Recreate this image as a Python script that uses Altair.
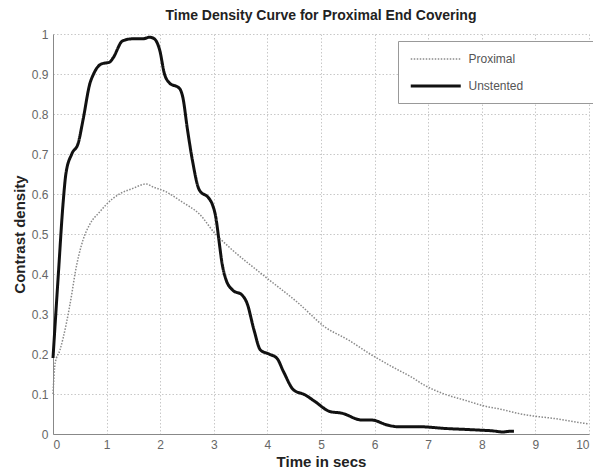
import altair as alt
import pandas as pd

unstented_t = [0, 0.1, 0.19, 0.24, 0.35, 0.47, 0.56, 0.69, 0.75, 0.90, 1.06, 1.12, 1.30, 1.49, 1.68, 1.80, 1.89,
               1.99, 2.08, 2.17, 2.36, 2.42, 2.51, 2.60, 2.73, 2.91, 2.97, 3.04, 3.10, 3.15, 3.22, 3.35, 3.53, 3.62,
               3.75, 3.87, 4.03, 4.18, 4.30, 4.49, 4.70, 4.89, 5.17, 5.39, 5.76, 5.94, 6.25, 6.44, 6.87, 7.30, 7.92,
               8.23, 8.39, 8.54, 8.6]
unstented_v = [0.19, 0.40, 0.58, 0.65, 0.70, 0.727, 0.785, 0.877, 0.898, 0.925, 0.93, 0.94, 0.983, 0.988, 0.988,
               0.992, 0.988, 0.96, 0.90, 0.878, 0.864, 0.843, 0.76, 0.685, 0.61, 0.589, 0.575, 0.54, 0.48, 0.43,
               0.389, 0.36, 0.347, 0.327, 0.26, 0.21, 0.20, 0.189, 0.156, 0.11, 0.098, 0.081, 0.056, 0.052, 0.035,
               0.035, 0.022, 0.018, 0.018, 0.014, 0.01, 0.0075, 0.005, 0.007, 0.007]

proximal_t = [0, 0.04, 0.13, 0.25, 0.35, 0.41, 0.56, 0.69, 0.87, 0.99, 1.11, 1.24, 1.49, 1.74, 1.86, 2.10, 2.41,
              2.73, 3.03, 3.28, 3.96, 4.58, 5.07, 5.51, 5.94, 6.44, 6.68, 6.93, 7.30, 7.67, 8.11, 8.35, 8.66, 8.91,
              9.34, 9.90, 10]
proximal_v = [0.10, 0.177, 0.21, 0.277, 0.35, 0.40, 0.485, 0.525, 0.555, 0.573, 0.588, 0.60, 0.614, 0.625, 0.618,
              0.606, 0.58, 0.55, 0.50, 0.468, 0.393, 0.327, 0.268, 0.235, 0.198, 0.160, 0.143, 0.122, 0.10, 0.085,
              0.068, 0.062, 0.052, 0.046, 0.039, 0.027, 0.025]

series_names = ["Proximal", "Unstented"]

rows = []
for i, (t, v) in enumerate(zip(proximal_t, proximal_v)):
    rows.append({"series": "Proximal", "t": t, "v": v, "order": i})
for i, (t, v) in enumerate(zip(unstented_t, unstented_v)):
    rows.append({"series": "Unstented", "t": t, "v": v, "order": i})
df = pd.DataFrame(rows)

FONT = "Liberation Sans"
PAD = "\u2800" * 8
leg = alt.Legend(title=None, labelExpr=f"datum.label + '{PAD}'")

chart = alt.Chart(df).mark_line(interpolate="monotone").encode(
    x=alt.X("t:Q", title="Time in secs",
            scale=alt.Scale(domain=[0, 10], nice=False),
            axis=alt.Axis(values=list(range(11)), format="d", grid=True)),
    y=alt.Y("v:Q", title="Contrast density",
            scale=alt.Scale(domain=[0, 1], nice=False),
            axis=alt.Axis(values=[i / 10 for i in range(11)],
                          labelExpr="datum.value == 0 ? '0' : datum.value == 1 ? '1' : format(datum.value, '.1f')")),
    color=alt.Color("series:N", scale=alt.Scale(domain=series_names, range=["#8a8a8a", "#111111"]), legend=leg),
    strokeDash=alt.StrokeDash("series:N", scale=alt.Scale(domain=series_names, range=[[1.5, 1.5], [1, 0]]), legend=leg),
    strokeWidth=alt.StrokeWidth("series:N", scale=alt.Scale(domain=series_names, range=[1.5, 3]), legend=leg),
    order="order:Q",
).properties(
    width=536, height=400,
    title=alt.TitleParams("Time Density Curve for Proximal End Covering", font=FONT, fontSize=14,
                          fontWeight="bold", color="#222", offset=5, frame="group"),
    autosize=alt.AutoSizeParams(type="none"),
    padding={"left": 45, "top": 26, "right": 4, "bottom": 40},
).configure_view(stroke=None).configure_axis(
    labelFont=FONT, labelFontSize=12, labelColor="#666",
    titleFont=FONT, titleFontSize=15, titleFontWeight="bold", titleColor="#222",
    domainColor="#888", domainWidth=1, ticks=False, labelPadding=5,
    gridColor="#c8c8c8", gridDash=[1.5, 2], gridWidth=1,
).configure_axisX(titlePadding=4).configure_axisY(titlePadding=4).configure_legend(
    orient="none", legendX=345, legendY=7, strokeColor="#999", fillColor="white",
    padding=11, symbolType="M-1,0H7", symbolSize=156.25, labelFont=FONT, labelFontSize=12,
    labelColor="#555", labelOffset=43.5, rowPadding=13, symbolStrokeColor="#111", labelLimit=300,
)

chart.save("out.html", embed_options={"renderer": "svg", "actions": False})
